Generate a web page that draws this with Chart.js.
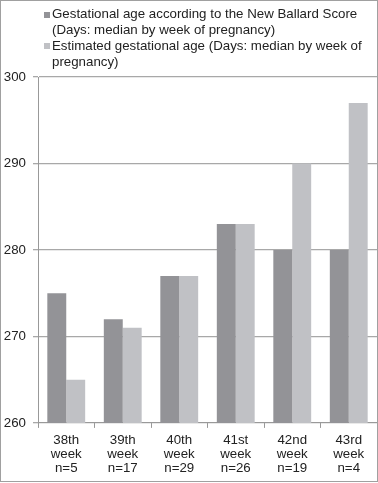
<!DOCTYPE html>
<html>
<head>
<meta charset="utf-8">
<script src="https://cdn.jsdelivr.net/npm/chart.js@4.4.0/dist/chart.umd.min.js"></script>
<style>
html,body{margin:0;padding:0;background:#fff;}
#wrap{position:relative;width:378px;height:483px;}
</style>
</head>
<body>
<div id="wrap"><canvas id="c" width="378" height="483"></canvas></div>
<script>
const categories = [['38th','week','n=5'],['39th','week','n=17'],['40th','week','n=29'],['41st','week','n=26'],['42nd','week','n=19'],['43rd','week','n=4']];
const ballardScore = [275, 272, 277, 283, 280, 280];
const estimatedAge = [265, 271, 277, 283, 290, 297];
const seriesNames = [
  ['Gestational age according to the New Ballard Score','(Days: median by week of pregnancy)'],
  ['Estimated gestational age (Days: median by week of','pregnancy)']
];
const yTicks = [260, 270, 280, 290, 300];
const colors = ['#939397', '#c0c1c5'];
const FONT = 'Liberation Sans, Arial, sans-serif';

const legendAndBorder = {
  id: 'legendAndBorder',
  afterDraw(chart) {
    const ctx = chart.ctx;
    ctx.save();
    ctx.font = '13.3px ' + FONT;
    ctx.textBaseline = 'alphabetic';
    const entries = [{y: 18, box: 12}, {y: 50, box: 43}];
    seriesNames.forEach((lines, i) => {
      ctx.fillStyle = colors[i];
      ctx.fillRect(44, entries[i].box, 6, 6);
      ctx.fillStyle = '#222';
      lines.forEach((t, j) => ctx.fillText(t, 52, entries[i].y + j * 16));
    });
    ctx.strokeStyle = '#a0a0a0';
    ctx.lineWidth = 1;
    ctx.strokeRect(0.5, 0.5, 377, 481);
    ctx.restore();
  }
};

new Chart(document.getElementById('c'), {
  type: 'bar',
  data: {
    labels: categories,
    datasets: [
      {label: seriesNames[0].join(' '), data: ballardScore, backgroundColor: colors[0]},
      {label: seriesNames[1].join(' '), data: estimatedAge, backgroundColor: colors[1]}
    ]
  },
  options: {
    responsive: false,
    animation: false,
    layout: {padding: {top: 77, left: 3, right: 1, bottom: 2}},
    plugins: {legend: {display: false}, tooltip: {enabled: false}},
    datasets: {bar: {categoryPercentage: 0.67, barPercentage: 1.0}},
    scales: {
      x: {
        grid: {display: true, drawOnChartArea: false, offset: true, color: '#999', tickLength: 5},
        border: {display: true, color: '#999'},
        ticks: {color: '#222', font: {family: FONT, size: 13.3, lineHeight: 1.03}, padding: 6, maxRotation: 0, autoSkip: false}
      },
      y: {
        min: 260, max: 300,
        afterBuildTicks(scale) { scale.ticks = yTicks.map(v => ({value: v})); },
        afterFit(scale) { scale.width = 35; },
        grid: {color: '#a8a8a8', lineWidth: 1.3, tickLength: 5},
        border: {display: true, color: '#999'},
        ticks: {color: '#222', font: {family: FONT, size: 13.3}, padding: 7}
      }
    }
  },
  plugins: [legendAndBorder]
});
</script>
</body>
</html>
